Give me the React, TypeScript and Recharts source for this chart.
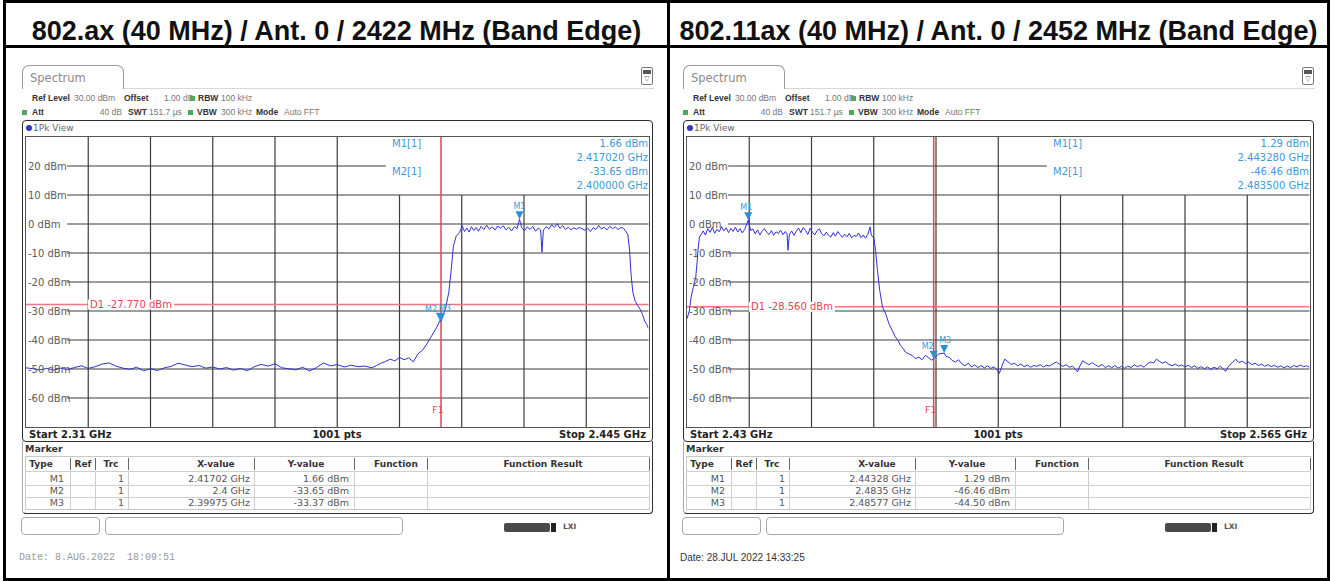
import React from 'react';
import { LineChart, Line, XAxis, YAxis, ReferenceLine, ReferenceDot } from 'recharts';

const TITLES = [
  '802.ax (40 MHz) / Ant. 0 / 2422 MHz (Band Edge)',
  '802.11ax (40 MHz) / Ant. 0 / 2452 MHz (Band Edge)',
];

// left screenshot: 2.31 - 2.445 GHz
const LEFT_SPAN = [2.31, 2.445];
const LEFT_FREQ = [
  2.3100, 2.3115, 2.3130, 2.3145, 2.3160, 2.3175, 2.3190, 2.3205, 2.3220, 2.3235,
  2.3250, 2.3265, 2.3280, 2.3295, 2.3310, 2.3325, 2.3340, 2.3355, 2.3370, 2.3385,
  2.3400, 2.3415, 2.3430, 2.3445, 2.3460, 2.3475, 2.3490, 2.3505, 2.3520, 2.3535,
  2.3550, 2.3565, 2.3580, 2.3595, 2.3610, 2.3625, 2.3640, 2.3655, 2.3670, 2.3685,
  2.3700, 2.3715, 2.3730, 2.3745, 2.3760, 2.3775, 2.3790, 2.3805, 2.3820, 2.3835,
  2.3850, 2.3860, 2.3870, 2.3880, 2.3890, 2.3900, 2.3910, 2.3920, 2.3930, 2.3940,
  2.3950, 2.3960, 2.3970, 2.3980, 2.3990, 2.39975, 2.4000, 2.4010, 2.4017, 2.4022,
  2.4027, 2.4033, 2.4040, 2.4046, 2.4051, 2.4056, 2.4061, 2.4066, 2.4071, 2.4076,
  2.4081, 2.4087, 2.4093, 2.4099, 2.4105, 2.4111, 2.4117, 2.4123, 2.4129, 2.4135,
  2.4141, 2.4147, 2.4153, 2.4159, 2.4165, 2.41702, 2.4175, 2.4181, 2.4187, 2.4193,
  2.4199, 2.4205, 2.4211, 2.4216, 2.4219, 2.4222, 2.4228, 2.4234, 2.4240, 2.4246,
  2.4252, 2.4258, 2.4264, 2.4270, 2.4276, 2.4282, 2.4288, 2.4294, 2.4300, 2.4306,
  2.4312, 2.4318, 2.4324, 2.4330, 2.4336, 2.4342, 2.4348, 2.4354, 2.4360, 2.4366,
  2.4372, 2.4378, 2.4384, 2.4390, 2.4396, 2.4400, 2.4405, 2.4409, 2.4412, 2.4416,
  2.4421, 2.4426, 2.4432, 2.4437, 2.4442, 2.4446, 2.4450,
];
const LEFT_LEVEL = [
  -49.6, -49.9, -50.3, -49.8, -50.4, -49.7, -50.2, -49.5, -48.9, -49.8,
  -49.2, -48.3, -47.9, -49.0, -49.7, -50.1, -49.4, -50.6, -49.9, -50.5,
  -49.6, -49.1, -48.0, -48.6, -49.2, -48.8, -49.7, -49.3, -50.0, -49.5,
  -50.4, -49.8, -50.6, -49.2, -48.4, -49.0, -48.2, -49.6, -49.9, -50.3,
  -49.4, -50.7, -49.5, -47.9, -48.9, -48.5, -49.3, -48.7, -49.2, -49.0,
  -49.6, -48.8, -48.0, -47.4, -46.6, -47.2, -46.0, -46.8, -46.2, -47.5,
  -44.8, -43.5, -41.2, -38.5, -35.8, -33.37, -33.65, -29.0, -23.5, -16.0,
  -7.5, -4.2, -3.0, -0.6, -2.6, -1.4, -2.8, -0.9, -2.2, -1.2,
  -2.5, -0.8, -1.9, -0.4, -1.8, -1.0, -2.1, -0.7, -1.5, -0.6,
  -2.0, -1.1, -2.4, -0.9, -1.6, 1.66, -1.3, -2.3, -1.0, -1.9,
  -0.8, -2.5, -1.4, -2.0, -9.7, -2.1, -0.9, -1.7, -0.3, -1.2,
  0.1, -1.5, -0.6, -1.9, -1.1, -2.0, -1.3, -1.8, -1.2, -1.6,
  -2.2, -1.4, -2.6, -1.3, -1.9, -0.5, -1.7, -1.1, -2.0, -0.8,
  -1.6, -1.0, -1.9, -1.2, -1.5, -2.4, -3.5, -9.0, -17.0, -23.5,
  -26.6, -28.0, -29.4, -31.2, -33.5, -34.6, -36.0,
];
const LEFT_F1 = 2.4;
const LEFT_D1 = -27.77;
const LEFT_MARKER_NAMES = ['M1', 'M2', 'M3'];
const LEFT_MARKER_FREQ = [2.41702, 2.4, 2.39975];
const LEFT_MARKER_LEVEL = [1.66, -33.65, -33.37];

// right screenshot: 2.43 - 2.565 GHz
const RIGHT_SPAN = [2.43, 2.565];
const RIGHT_FREQ = [
  2.4300, 2.4305, 2.4309, 2.4314, 2.4319, 2.4322, 2.4324, 2.4327, 2.4331, 2.4335,
  2.4340, 2.4345, 2.4350, 2.4355, 2.4360, 2.4365, 2.4370, 2.4375, 2.4380, 2.4385,
  2.4390, 2.4395, 2.4400, 2.4405, 2.4410, 2.4415, 2.4420, 2.4425, 2.44328, 2.4438,
  2.4443, 2.4448, 2.4453, 2.4458, 2.4463, 2.4468, 2.4473, 2.4478, 2.4483, 2.4488,
  2.4493, 2.4498, 2.4503, 2.4508, 2.4513, 2.4517, 2.4519, 2.4522, 2.4527, 2.4532,
  2.4537, 2.4542, 2.4547, 2.4552, 2.4557, 2.4562, 2.4567, 2.4572, 2.4577, 2.4582,
  2.4587, 2.4592, 2.4597, 2.4602, 2.4607, 2.4612, 2.4617, 2.4622, 2.4627, 2.4632,
  2.4637, 2.4642, 2.4647, 2.4652, 2.4657, 2.4662, 2.4667, 2.4672, 2.4677, 2.4682,
  2.4687, 2.4692, 2.4697, 2.4700, 2.4705, 2.4709, 2.4713, 2.4718, 2.4724, 2.4731,
  2.4738, 2.4745, 2.4752, 2.4758, 2.4763, 2.4769, 2.4774, 2.4781, 2.4788, 2.4795,
  2.4803, 2.4810, 2.4817, 2.4824, 2.4830, 2.4835, 2.4840, 2.4846, 2.48577, 2.4862,
  2.4868, 2.4875, 2.4882, 2.4889, 2.4896, 2.4903, 2.4910, 2.4917, 2.4924, 2.4931,
  2.4938, 2.4945, 2.4952, 2.4959, 2.4966, 2.4973, 2.4977, 2.4983, 2.4989, 2.4996,
  2.5003, 2.5010, 2.5017, 2.5024, 2.5031, 2.5038, 2.5045, 2.5052, 2.5059, 2.5066,
  2.5073, 2.5080, 2.5087, 2.5094, 2.5101, 2.5108, 2.5115, 2.5122, 2.5129, 2.5136,
  2.5143, 2.5147, 2.5152, 2.5158, 2.5165, 2.5172, 2.5179, 2.5186, 2.5193, 2.5200,
  2.5207, 2.5214, 2.5221, 2.5228, 2.5235, 2.5242, 2.5249, 2.5256, 2.5263, 2.5270,
  2.5277, 2.5284, 2.5291, 2.5298, 2.5305, 2.5312, 2.5318, 2.5324, 2.5331, 2.5338,
  2.5345, 2.5352, 2.5359, 2.5366, 2.5373, 2.5380, 2.5387, 2.5394, 2.5401, 2.5408,
  2.5415, 2.5422, 2.5429, 2.5436, 2.5443, 2.5450, 2.5457, 2.5464, 2.5468, 2.5475,
  2.5482, 2.5490, 2.5497, 2.5504, 2.5511, 2.5518, 2.5525, 2.5532, 2.5539, 2.5546,
  2.5553, 2.5560, 2.5567, 2.5574, 2.5581, 2.5588, 2.5595, 2.5602, 2.5609, 2.5616,
  2.5623, 2.5630, 2.5637, 2.5644, 2.5650,
];
const RIGHT_LEVEL = [
  -32.7, -30.0, -25.2, -21.5, -18.3, -13.0, -8.8, -4.5, -3.6, -2.4,
  -3.8, -1.6, -2.9, -1.2, -3.2, -1.8, -2.7, -0.9, -2.4, -1.3,
  -3.0, -1.5, -2.6, -1.1, -2.8, -1.6, -3.1, -1.9, 1.29, -2.2,
  -1.7, -3.4, -2.0, -3.8, -2.5, -1.6, -2.9, -3.6, -2.3, -3.9,
  -2.7, -3.3, -2.1, -3.7, -2.6, -3.4, -9.1, -3.5, -2.4, -3.9,
  -2.5, -1.4, -3.0, -1.2, -2.2, -3.6, -1.5, -2.8, -3.8, -2.3,
  -1.7, -3.3, -4.1, -2.8, -3.9, -4.5, -3.0, -4.2, -2.6, -3.7,
  -4.6, -3.5, -4.4, -3.2, -4.8, -3.9, -4.3, -3.1, -4.7, -3.8,
  -4.9, -3.6, -1.0, -4.0, -4.6, -9.1, -16.0, -22.9, -28.7, -31.0,
  -34.4, -36.7, -39.0, -40.2, -41.9, -43.0, -44.2, -44.8, -45.3, -46.4,
  -45.9, -46.8, -45.3, -46.1, -46.9, -46.46, -45.6, -44.8, -44.5, -45.7,
  -45.9, -47.0, -47.6, -46.8, -48.2, -48.9, -48.0, -49.3, -48.6, -49.5,
  -48.8, -49.6, -48.9, -49.8, -49.2, -50.4, -51.6, -49.0, -46.6, -47.5,
  -48.4, -48.0, -48.9, -48.3, -49.2, -48.6, -49.4, -48.8, -49.1, -48.5,
  -49.3, -48.7, -49.0, -48.2, -47.6, -48.4, -49.1, -48.5, -49.4, -49.0,
  -50.2, -51.0, -49.0, -47.2, -47.9, -48.5, -47.8, -48.6, -49.2, -48.4,
  -49.5, -48.9, -49.6, -48.8, -49.7, -49.1, -49.8, -49.0, -49.5, -48.6,
  -49.2, -48.7, -49.4, -48.3, -47.6, -47.9, -46.6, -47.3, -48.0, -47.5,
  -48.4, -48.9, -48.3, -49.0, -48.6, -49.3, -48.7, -49.5, -48.9, -49.8,
  -49.2, -49.9, -49.3, -50.1, -49.4, -49.9, -49.0, -50.2, -50.8, -48.9,
  -47.9, -46.6, -47.8, -47.3, -48.1, -47.6, -48.5, -48.0, -48.8, -48.3,
  -49.1, -48.5, -49.2, -48.7, -49.4, -48.9, -49.6, -49.0, -49.5, -48.8,
  -49.3, -48.6, -49.2, -48.9, -49.4,
];
const RIGHT_F1 = 2.4835;
const RIGHT_D1 = -28.56;
const RIGHT_MARKER_NAMES = ['M1', 'M2', 'M3'];
const RIGHT_MARKER_FREQ = [2.44328, 2.4835, 2.48577];
const RIGHT_MARKER_LEVEL = [1.29, -46.46, -44.5];

const LEVEL_TICKS = [20, 10, 0, -10, -20, -30, -40, -50, -60];
const DATES = ['Date: 8.AUG.2022  18:09:51', 'Date: 28.JUL 2022 14:33:25'];

const UI = '"DejaVu Sans", Verdana, sans-serif';
const ARIAL = '"Liberation Sans", Arial, sans-serif';
const GRID = '#3c3c3c';
const TRACE = '#3030d4';
const RED = '#e8425a';
const PINK = '#f27584';
const MARK = '#2d8fd8';
const BLUE_TXT = '#3b9ad9';
const LABEL = '#5c5c5c';

const PLOT_L = 26;
const PLOT_T = 136.5;
const PLOT_W = 622.5;
const PLOT_H = 290;

function Txt({ x, y, text, size = 9, bold = false, color = '#444', align = 'left', font = UI }: any) {
  const h = Math.round(size * 1.3);
  const w = 400;
  const left = align === 'left' ? x : align === 'right' ? x - w : x - w / 2;
  return (
    <div
      style={{
        position: 'absolute', left, top: y - h / 2, width: w, height: h, lineHeight: `${h}px`,
        fontSize: size, fontWeight: bold ? 700 : 400, color, fontFamily: font, textAlign: align,
        whiteSpace: 'pre',
      }}
    >
      {text}
    </div>
  );
}

function Rect({ x, y, w, h, style }: any) {
  return <div style={{ position: 'absolute', left: x, top: y, width: w, height: h, boxSizing: 'border-box', ...style }} />;
}

const levelTick = (props: any) => (
  <text x={2} y={props.y} dy={3.5} fontSize={10} fill={LABEL} fontFamily={UI}>
    {`${props.payload.value} dBm`}
  </text>
);

const markerShape = (name: string, dx: number) => (props: any) => {
  const { cx, cy } = props;
  return (
    <g>
      <polygon points={`${cx - 4},${cy - 8} ${cx + 4},${cy - 8} ${cx},${cy}`} fill={MARK} />
      <text x={cx + dx} y={cy - 10} textAnchor="middle" fontSize={8} fill={BLUE_TXT} fontFamily={UI}>
        {name}
      </text>
    </g>
  );
};

function Panel({ dx, span, freq, level, f1, d1, names, mFreq, mLevel, labelDx, date, dateFont, dateColor, dateSize }: any) {
  const [start, stop] = span;
  const width = stop - start;
  const data = freq.map((f: number, i: number) => ({ f, level: level[i] }));
  const divs = [1, 2, 3, 4, 5, 6, 7, 8, 9].map((i) => start + (width * i) / 10);
  const hStart = start + width * 0.066;
  const boxEnd = start + width * 0.578;
  const cols = [70, 95, 128, 254, 354, 427, 649];
  const hdr = 8.5;

  return (
    <div style={{ position: 'absolute', left: dx, top: 0, width: 666, height: 581 }}>
      {/* tab + icon */}
      <Rect x={22} y={65} w={102} h={24} style={{ border: '1px solid #9a9a9a', borderBottom: 'none', borderRadius: '7px 7px 0 0' }} />
      <Txt x={30} y={78} text="Spectrum" size={11.5} color="#8a8a8a" />
      <Rect x={124} y={88} w={530} h={1} style={{ background: '#d8d8d8' }} />
      <Rect x={641} y={67} w={12} h={18} style={{ border: '1px solid #777', borderRadius: 2 }} />
      <Rect x={643} y={70} w={8} h={4} style={{ background: '#555' }} />
      <Txt x={647} y={79} text="▽" size={7} color="#666" align="center" />

      {/* settings rows */}
      <Txt x={32} y={98} text="Ref Level" bold size={hdr} font={ARIAL} color="#333" />
      <Txt x={74} y={98} text="30.00 dBm" size={hdr} font={ARIAL} color="#777" />
      <Txt x={124} y={98} text="Offset" bold size={hdr} font={ARIAL} color="#333" />
      <Txt x={164} y={98} text="1.00 dB" size={hdr} font={ARIAL} color="#777" />
      <Rect x={190} y={96} w={5} h={5} style={{ background: '#52a85a' }} />
      <Txt x={198} y={98} text="RBW" bold size={hdr} font={ARIAL} color="#333" />
      <Txt x={221} y={98} text="100 kHz" size={hdr} font={ARIAL} color="#777" />
      <Rect x={22} y={110} w={5} h={5} style={{ background: '#52a85a' }} />
      <Txt x={32} y={112} text="Att" bold size={hdr} font={ARIAL} color="#333" />
      <Txt x={122} y={112} text="40 dB" align="right" size={hdr} font={ARIAL} color="#777" />
      <Txt x={128} y={112} text="SWT" bold size={hdr} font={ARIAL} color="#333" />
      <Txt x={149} y={112} text="151.7 µs" size={hdr} font={ARIAL} color="#777" />
      <Rect x={188} y={110} w={5} h={5} style={{ background: '#52a85a' }} />
      <Txt x={197} y={112} text="VBW" bold size={hdr} font={ARIAL} color="#333" />
      <Txt x={221} y={112} text="300 kHz" size={hdr} font={ARIAL} color="#777" />
      <Txt x={256} y={112} text="Mode" bold size={hdr} font={ARIAL} color="#333" />
      <Txt x={284} y={112} text="Auto FFT" size={hdr} font={ARIAL} color="#777" />

      {/* 1Pk View frame */}
      <Rect x={22} y={120} w={631} h={322} style={{ border: '1.5px solid #2e2e2e', borderRadius: 4 }} />
      <div style={{ position: 'absolute', left: 26, top: 125, width: 6, height: 6, borderRadius: 3, background: '#3535c0' }} />
      <Txt x={33} y={128} text="1Pk View" size={9} color="#666" />
      <Rect x={PLOT_L - 1} y={PLOT_T - 1} w={PLOT_W + 2} h={PLOT_H + 2} style={{ border: '1px solid #555' }} />

      <div style={{ position: 'absolute', left: PLOT_L, top: PLOT_T }}>
        <LineChart width={PLOT_W} height={PLOT_H} data={data} margin={{ top: 0, right: 0, bottom: 0, left: 0 }}>
          <XAxis dataKey="f" type="number" domain={[start, stop]} hide allowDataOverflow />
          <YAxis
            type="number" domain={[-70, 30]} ticks={LEVEL_TICKS} interval={0} mirror allowDataOverflow
            axisLine={false} tickLine={false} tick={levelTick}
          />
          {divs.map((x: number, i: number) => (
            <ReferenceLine key={`v${i}`} ifOverflow="visible" stroke={GRID} strokeWidth={1.2}
              segment={[{ x, y: i < 5 ? 30 : 10 }, { x, y: -70 }]} />
          ))}
          {LEVEL_TICKS.map((v) => (
            <ReferenceLine key={`h${v}`} ifOverflow="visible" stroke={GRID} strokeWidth={1.2}
              segment={[{ x: hStart, y: v }, { x: v === 20 ? boxEnd : stop, y: v }]} />
          ))}
          <ReferenceLine
            y={d1} stroke={PINK} strokeWidth={1.5}
            label={(p: any) => (
              <g>
                <rect x={p.viewBox.x + 62} y={p.viewBox.y - 5} width={86} height={10} fill="#fff" />
                <text x={p.viewBox.x + 64} y={p.viewBox.y} dy={3.5} fontSize={10} fill={RED} fontFamily={UI}>
                  {`D1 ${d1.toFixed(3)} dBm`}
                </text>
              </g>
            )}
          />
          <ReferenceLine
            x={f1} stroke={RED} strokeWidth={1.5}
            label={(p: any) => (
              <text x={p.viewBox.x - 3} y={p.viewBox.y + p.viewBox.height - 14} textAnchor="middle"
                fontSize={9.5} fill={RED} fontFamily={UI}>F1</text>
            )}
          />
          <Line dataKey="level" type="linear" stroke={TRACE} strokeWidth={1} dot={false} isAnimationActive={false} />
          {names.map((n: string, i: number) => (
            <ReferenceDot key={n} x={mFreq[i]} y={mLevel[i]} ifOverflow="visible" shape={markerShape(n, labelDx[i])} />
          ))}
        </LineChart>
      </div>

      {/* marker readout */}
      <Txt x={392} y={143} text="M1[1]" size={10} color={BLUE_TXT} />
      <Txt x={648} y={143} text={`${mLevel[0].toFixed(2)} dBm`} align="right" size={10} color={BLUE_TXT} />
      <Txt x={648} y={157} text={`${mFreq[0].toFixed(6)} GHz`} align="right" size={10} color={BLUE_TXT} />
      <Txt x={392} y={171} text="M2[1]" size={10} color={BLUE_TXT} />
      <Txt x={648} y={171} text={`${mLevel[1].toFixed(2)} dBm`} align="right" size={10} color={BLUE_TXT} />
      <Txt x={648} y={185} text={`${mFreq[1].toFixed(6)} GHz`} align="right" size={10} color={BLUE_TXT} />

      {/* footer */}
      <Txt x={29} y={434} text={`Start ${start} GHz`} bold size={10} color="#222" />
      <Txt x={337} y={434} text="1001 pts" bold size={10} color="#222" align="center" />
      <Txt x={646} y={434} text={`Stop ${stop} GHz`} bold size={10} color="#222" align="right" />

      {/* marker table */}
      <Rect x={22} y={441} w={631} h={73} style={{ borderLeft: '1px solid #aaa', borderRight: '1.5px solid #2e2e2e', borderBottom: '1.5px solid #2e2e2e', borderRadius: '0 0 4px 4px' }} />
      <Txt x={25} y={449} text="Marker" bold size={9.5} color="#333" />
      <Rect x={25} y={456} w={625} h={54} style={{ border: '1px solid #c8c8c8' }} />
      {[471, 485, 497].map((y) => (
        <Rect key={y} x={25} y={y} w={625} h={1} style={{ background: '#cfcfcf' }} />
      ))}
      {cols.map((x) => (
        <React.Fragment key={x}>
          <Rect x={x} y={458} w={1.2} h={12} style={{ background: '#666' }} />
          <Rect x={x} y={472} w={1} h={37} style={{ background: '#d0d0d0' }} />
        </React.Fragment>
      ))}
      <Txt x={41} y={464} text="Type" bold size={9} color="#333" align="center" />
      <Txt x={83} y={464} text="Ref" bold size={9} color="#333" align="center" />
      <Txt x={111} y={464} text="Trc" bold size={9} color="#333" align="center" />
      <Txt x={216} y={464} text="X-value" bold size={9} color="#333" align="center" />
      <Txt x={306} y={464} text="Y-value" bold size={9} color="#333" align="center" />
      <Txt x={396} y={464} text="Function" bold size={9} color="#333" align="center" />
      <Txt x={543} y={464} text="Function Result" bold size={9} color="#333" align="center" />
      {names.map((n: string, i: number) => (
        <React.Fragment key={n}>
          <Txt x={64} y={479 + i * 12} text={n} size={9.5} color="#555" align="right" />
          <Txt x={124} y={479 + i * 12} text="1" size={9.5} color="#555" align="right" />
          <Txt x={250} y={479 + i * 12} text={`${mFreq[i]} GHz`} size={9.5} color="#555" align="right" />
          <Txt x={349} y={479 + i * 12} text={`${mLevel[i].toFixed(2)} dBm`} size={9.5} color="#555" align="right" />
        </React.Fragment>
      ))}

      {/* status bar */}
      <Rect x={21} y={517} w={79} h={18} style={{ border: '1px solid #a8a8a8', borderRadius: 4 }} />
      <Rect x={105} y={517} w={298} h={18} style={{ border: '1px solid #a8a8a8', borderRadius: 4 }} />
      <Rect x={504} y={523} w={46} h={9} style={{ background: '#4a4a4a', borderRadius: 2 }} />
      <Rect x={551} y={523} w={5} h={9} style={{ background: '#222' }} />
      <Txt x={563} y={527} text="LXI" bold size={7.5} color="#555" />

      <Txt x={19} y={557} text={date} size={dateSize} color={dateColor} font={dateFont} />
    </div>
  );
}

export default function App() {
  return (
    <div style={{ position: 'absolute', left: 0, top: 0, width: 1333, height: 581, background: '#fff', overflow: 'hidden' }}>
      <Rect x={3} y={0} w={1327} h={581} style={{ border: '3px solid #000' }} />
      <Rect x={3} y={45} w={1327} h={3} style={{ background: '#000' }} />
      <Rect x={667} y={0} w={3} h={581} style={{ background: '#000' }} />

      <div style={{ position: 'absolute', left: 6, top: 18, width: 661, textAlign: 'center', fontFamily: ARIAL, fontWeight: 700, fontSize: 27, lineHeight: '27px', color: '#111' }}>
        {TITLES[0]}
      </div>
      <div style={{ position: 'absolute', left: 670, top: 18, width: 657, textAlign: 'center', fontFamily: ARIAL, fontWeight: 700, fontSize: 27, lineHeight: '27px', color: '#111' }}>
        {TITLES[1]}
      </div>

      <Panel
        dx={0} span={LEFT_SPAN} freq={LEFT_FREQ} level={LEFT_LEVEL} f1={LEFT_F1} d1={LEFT_D1}
        names={LEFT_MARKER_NAMES} mFreq={LEFT_MARKER_FREQ} mLevel={LEFT_MARKER_LEVEL} labelDx={[0, -10, 5]}
        date={DATES[0]} dateFont={'"Liberation Mono", monospace'} dateColor="#9a9a9a" dateSize={10}
      />
      <Panel
        dx={661} span={RIGHT_SPAN} freq={RIGHT_FREQ} level={RIGHT_LEVEL} f1={RIGHT_F1} d1={RIGHT_D1}
        names={RIGHT_MARKER_NAMES} mFreq={RIGHT_MARKER_FREQ} mLevel={RIGHT_MARKER_LEVEL} labelDx={[-2, -6, 1]}
        date={DATES[1]} dateFont={ARIAL} dateColor="#333" dateSize={10}
      />
    </div>
  );
}
